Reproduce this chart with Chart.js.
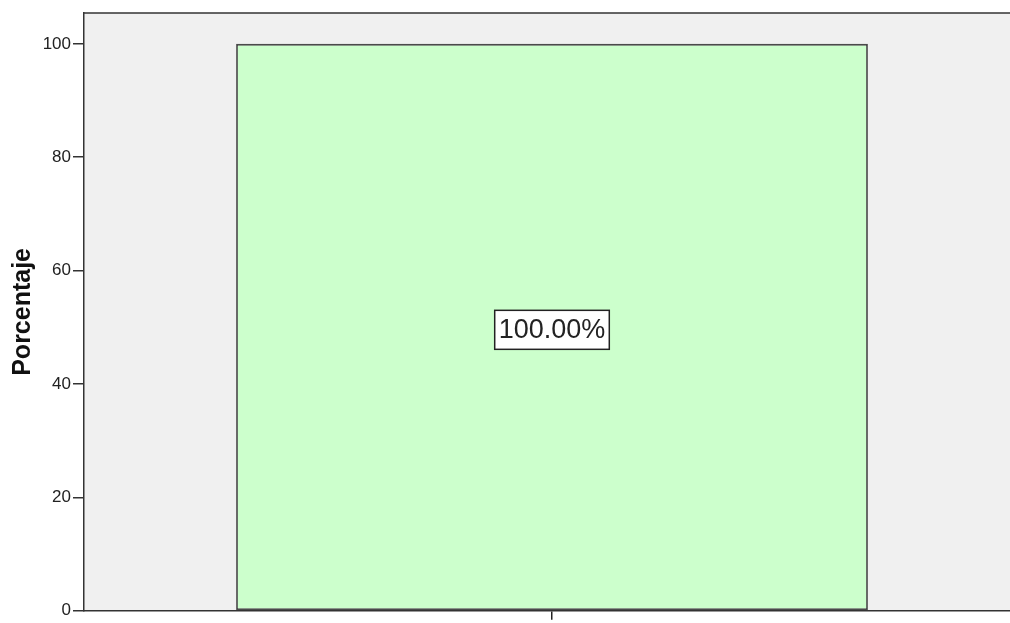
<!DOCTYPE html>
<html>
<head>
<meta charset="utf-8">
<script src="https://cdn.jsdelivr.net/npm/chart.js@4/dist/chart.umd.min.js"></script>
<style>
html,body{margin:0;padding:0;background:#fff;overflow:hidden;width:1010px;height:623px;}
canvas{display:block;}
</style>
</head>
<body>
<canvas id="c" width="1020" height="623" style="width:1020px;height:623px"></canvas>
<script>
const categories = [''];
const percentages = [100];
const yTicks = [0, 20, 40, 60, 80, 100];
const yTitle = 'Porcentaje';

const plotBg = {
  id: 'plotBg',
  beforeDraw(chart) {
    const {ctx, chartArea: a} = chart;
    ctx.save();
    ctx.fillStyle = '#f0f0f0';
    ctx.fillRect(a.left, a.top, chart.width - a.left, a.bottom - a.top);
    ctx.strokeStyle = '#333';
    ctx.lineWidth = 1.5;
    ctx.beginPath();
    ctx.moveTo(a.left, a.top);
    ctx.lineTo(chart.width, a.top);
    ctx.stroke();
    ctx.restore();
  }
};

const barLabel = {
  id: 'barLabel',
  afterDatasetsDraw(chart) {
    const {ctx} = chart;
    const xs = chart.scales.x, ys = chart.scales.y;
    percentages.forEach((v, i) => {
      const x = xs.getPixelForValue(i);
      const y = ys.getPixelForValue(v / 2) + 2.5;
      const txt = v.toFixed(2) + '%';
      ctx.save();
      ctx.font = '27px "Liberation Sans", Arial, sans-serif';
      const w = ctx.measureText(txt).width + 8;
      const h = 39;
      ctx.fillStyle = '#ffffff';
      ctx.fillRect(x - w / 2, y - h / 2, w, h);
      ctx.strokeStyle = '#222';
      ctx.lineWidth = 1.5;
      ctx.strokeRect(x - w / 2, y - h / 2, w, h);
      ctx.fillStyle = '#222';
      ctx.textAlign = 'center';
      ctx.textBaseline = 'middle';
      ctx.fillText(txt, x, y + 1);
      ctx.restore();
    });
  }
};

new Chart(document.getElementById('c'), {
  type: 'bar',
  data: {
    labels: categories,
    datasets: [{
      data: percentages,
      backgroundColor: '#ccffcc',
      borderColor: '#4a4a4a',
      borderWidth: 1.8,
      borderSkipped: false,
      barPercentage: 0.675,
      categoryPercentage: 1
    }]
  },
  options: {
    responsive: false,
    devicePixelRatio: 1,
    animation: false,
    layout: {padding: {top: 13, left: 0, right: 0, bottom: 0}},
    plugins: {legend: {display: false}, tooltip: {enabled: false}},
    scales: {
      x: {
        offset: true,
        grid: {display: true, drawOnChartArea: false, offset: false, tickLength: 9, color: '#222', lineWidth: 1.5},
        border: {display: true, color: '#333', width: 1.5},
        ticks: {display: false},
        afterFit(s) { s.height = 9; }
      },
      y: {
        min: 0,
        max: 105.44,
        afterBuildTicks(s) { s.ticks = yTicks.map(v => ({value: v})); },
        ticks: {
          includeBounds: false,
          color: '#222',
          padding: 2,
          font: {family: '"Liberation Sans", Arial, sans-serif', size: 17}
        },
        grid: {display: true, drawOnChartArea: false, tickLength: 11, color: '#333', lineWidth: 1.5},
        border: {display: true, color: '#333', width: 1.5},
        title: {
          display: true,
          text: yTitle,
          color: '#111',
          font: {family: '"Liberation Sans", Arial, sans-serif', size: 25, weight: 'bold'},
          padding: {top: 8, bottom: 0}
        },
        afterFit(s) { s.width = 84; }
      }
    }
  },
  plugins: [plotBg, barLabel]
});
</script>
</body>
</html>
